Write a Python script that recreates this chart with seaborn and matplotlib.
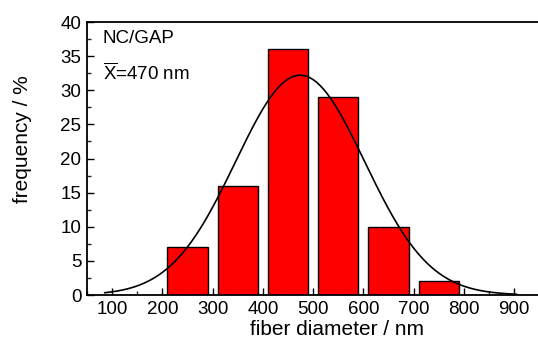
import numpy as np
import pandas as pd
import matplotlib
matplotlib.use("Agg")
import matplotlib.pyplot as plt
from matplotlib.ticker import MultipleLocator
import seaborn as sns

# Histogram of fiber diameters (bin centres in nm, frequency in %)
bin_centers = [250, 350, 450, 550, 650, 750]
frequency = [7, 16, 36, 29, 10, 2]

# Gaussian fit parameters of the distribution
fit_center = 474.0
fit_sigma = 128.5
fit_amplitude = 32.2

x_ticks = [100, 200, 300, 400, 500, 600, 700, 800, 900]
y_ticks = [0, 5, 10, 15, 20, 25, 30, 35, 40]

sns.set_theme(style="white")
family = "Liberation Sans"
plt.rcParams["font.family"] = [family, "DejaVu Sans"]
plt.rcParams["mathtext.fontset"] = "custom"
plt.rcParams["mathtext.rm"] = family
plt.rcParams["mathtext.it"] = family

fig = plt.figure(figsize=(5.38, 3.44), dpi=100)
ax = fig.add_axes([0.1617, 0.1424, 0.8409, 0.7936])

df = pd.DataFrame({"d": bin_centers, "f": frequency})
sns.barplot(data=df, x="d", y="f", native_scale=True, width=0.8,
            color="#ff0000", saturation=1, edgecolor="black", linewidth=1.0,
            ax=ax, zorder=2)

xs = np.linspace(85, 905, 400)
ys = fit_amplitude * np.exp(-(xs - fit_center) ** 2 / (2 * fit_sigma ** 2))
sns.lineplot(x=xs, y=ys, color="black", linewidth=1.2, ax=ax, zorder=3)

ax.set_xlim(50, 950)
ax.set_ylim(0, 40)
ax.set_xticks(x_ticks)
ax.set_yticks(y_ticks)
ax.xaxis.set_minor_locator(MultipleLocator(50))
ax.yaxis.set_minor_locator(MultipleLocator(2.5))
ax.tick_params(axis="both", which="major", direction="in", length=5, width=1.0,
               labelsize=13.5, colors="black", pad=4)
ax.tick_params(axis="both", which="minor", direction="in", length=3, width=1.0)
ax.tick_params(top=False, right=False, which="both")
ax.tick_params(axis="x", which="both", bottom=True)
ax.tick_params(axis="y", which="both", left=True)

for s in ax.spines.values():
    s.set_visible(True)
    s.set_color("black")
    s.set_linewidth(1.3)

ax.set_xlabel("fiber diameter / nm", fontsize=15, color="black")
ax.set_ylabel("frequency / %", fontsize=15, color="black")
ax.xaxis.set_label_coords(0.552, -0.092)
ax.yaxis.set_label_coords(-0.122, 0.57)

ax.text(0.035, 0.941, "NC/GAP", transform=ax.transAxes, fontsize=13.5,
        ha="left", va="center", color="black")
ax.text(0.035, 0.813, "$\\overline{\\mathrm{X}}$=470 nm", transform=ax.transAxes,
        fontsize=13.5, ha="left", va="center", color="black")

ax.grid(False)
fig.savefig("out.png", dpi=100)
